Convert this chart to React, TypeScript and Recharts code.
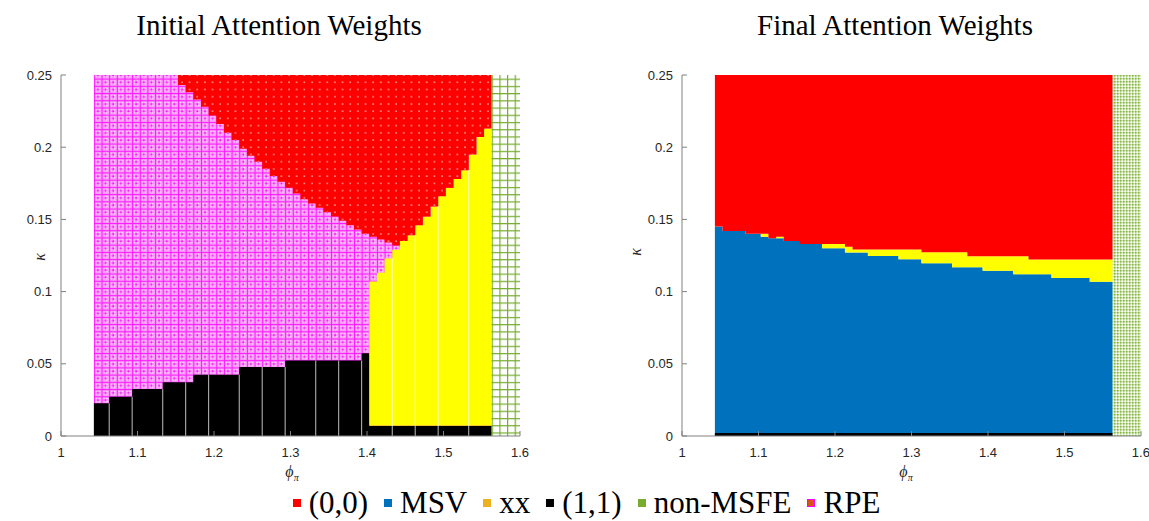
import { ComposedChart, Area, XAxis, YAxis, ReferenceLine } from 'recharts'

// column edges of the phi_pi grid (last value closes the final column)
const phiEdges = [
  1.043, 1.053, 1.063, 1.073, 1.083, 1.093, 1.103, 1.113, 1.123, 1.133,
  1.143, 1.153, 1.163, 1.173, 1.183, 1.193, 1.203, 1.213, 1.223, 1.233,
  1.243, 1.253, 1.263, 1.273, 1.283, 1.293, 1.303, 1.313, 1.323, 1.333,
  1.343, 1.353, 1.363, 1.373, 1.383, 1.393, 1.403, 1.413, 1.423, 1.433,
  1.443, 1.453, 1.463, 1.473, 1.483, 1.493, 1.503, 1.513, 1.523, 1.533,
  1.543, 1.553, 1.563,
]
const phiMax = 1.6
const kappaMax = 0.25
const xTicks = [1, 1.1, 1.2, 1.3, 1.4, 1.5, 1.6]
const yTicks = [0, 0.05, 0.1, 0.15, 0.2, 0.25]

// Initial attention weights: upper edge of (1,1) region
const initBlackTop = [
  0.0226, 0.0226, 0.0272, 0.0272, 0.0272, 0.0325, 0.0325, 0.0325, 0.0325, 0.0372,
  0.0372, 0.0372, 0.0372, 0.0425, 0.0425, 0.0425, 0.0425, 0.0425, 0.0425, 0.0478,
  0.0478, 0.0478, 0.0478, 0.0478, 0.0478, 0.0522, 0.0522, 0.0522, 0.0522, 0.0522,
  0.0522, 0.0522, 0.0522, 0.0522, 0.0522, 0.0573, 0.0071, 0.0071, 0.0071, 0.0071,
  0.0071, 0.0071, 0.0071, 0.0071, 0.0071, 0.0071, 0.0071, 0.0071, 0.0071, 0.0071,
  0.0071, 0.0071,
]
// upper edge of xx region (null = no xx in that column)
const initYellowTop = [
  null, null, null, null, null, null, null, null, null, null,
  null, null, null, null, null, null, null, null, null, null,
  null, null, null, null, null, null, null, null, null, null,
  null, null, null, null, null, null, 0.107, 0.113, 0.123, 0.129,
  0.135, 0.139, 0.146, 0.152, 0.159, 0.166, 0.172, 0.178, 0.184, 0.195,
  0.207, 0.213,
]
// lower edge of (0,0) region
const initRedLow = [
  null, null, null, null, null, null, null, null, null, null,
  null, 0.243, 0.238, 0.233, 0.228, 0.222, 0.216, 0.210, 0.205, 0.199,
  0.194, 0.190, 0.185, 0.180, 0.176, 0.172, 0.168, 0.164, 0.161, 0.158,
  0.155, 0.152, 0.149, 0.146, 0.143, 0.140, 0.138, 0.136, 0.134, 0.132,
  0.135, 0.139, 0.146, 0.152, 0.159, 0.166, 0.172, 0.178, 0.184, 0.195,
  0.207, 0.213,
]
// edge indices where the filled patches are separated by a thin white seam
const initSeams = [2, 5, 9, 12, 15, 19, 22, 25, 29, 32, 35, 39, 42, 45, 49]

// Final attention weights: upper edge of MSV region
const finalMsvTop = [
  0.145, 0.142, 0.142, 0.142, 0.140, 0.140, 0.138, 0.137, 0.137, 0.135,
  0.135, 0.133, 0.133, 0.133, 0.130, 0.130, 0.130, 0.127, 0.127, 0.127,
  0.1246, 0.1246, 0.1246, 0.1246, 0.1224, 0.1224, 0.1224, 0.1196, 0.1196, 0.1196,
  0.1196, 0.1168, 0.1168, 0.1168, 0.1168, 0.1145, 0.1145, 0.1145, 0.1145, 0.112,
  0.112, 0.112, 0.112, 0.112, 0.1094, 0.1094, 0.1094, 0.1094, 0.1094, 0.1069,
  0.1069, 0.1069,
]
// lower edge of (0,0) region
const finalRedLow = [
  0.145, 0.142, 0.142, 0.142, 0.140, 0.140, 0.140, 0.137, 0.138, 0.135,
  0.135, 0.133, 0.133, 0.133, 0.133, 0.133, 0.133, 0.131, 0.1292, 0.1292,
  0.1292, 0.1292, 0.1292, 0.1292, 0.1292, 0.1292, 0.1292, 0.1272, 0.1272, 0.1272,
  0.1272, 0.1272, 0.1272, 0.1245, 0.1245, 0.1245, 0.1245, 0.1245, 0.1245, 0.1245,
  0.1245, 0.1222, 0.1222, 0.1222, 0.1222, 0.1222, 0.1222, 0.1222, 0.1222, 0.1222,
  0.1222, 0.1222,
]
// (1,1) markers sit on the kappa = 0 row
const finalBlackTop = 0.002

const legendItems = [
  { label: '(0,0)', color: '#FF0000' },
  { label: 'MSV', color: '#0072BD' },
  { label: 'xx', color: '#EDB120' },
  { label: '(1,1)', color: '#000000' },
  { label: 'non-MSFE', color: '#77AC30' },
  { label: 'RPE', color: '#D95319', border: '#FF00FF' },
]

const RED = '#FF0000'
const YELLOW = '#FFFF00'
const BLUE = '#0072BD'
const AXIS = '#808080'
const TXT = '#262626'
const serif = '"Liberation Serif", "Times New Roman", serif'
const sans = '"Liberation Sans", Arial, sans-serif'

// each grid column becomes a flat step: one row at its left edge, one at its right edge
function buildRows(series: Record<string, (number | null)[]>) {
  const rows: any[] = []
  for (let i = 0; i < phiEdges.length - 1; i++) {
    for (const phi of [phiEdges[i], phiEdges[i + 1]]) {
      const row: any = { phi, inData: true }
      for (const key in series) row[key] = series[key][i]
      rows.push(row)
    }
  }
  rows.push({ phi: phiEdges[phiEdges.length - 1], inData: false, green: true })
  rows.push({ phi: phiMax, inData: false, green: true })
  return rows
}

const initRows = buildRows({ black: initBlackTop, yellow: initYellowTop, red: initRedLow })
const finalRows = buildRows({ msv: finalMsvTop, red: finalRedLow })

const green = (r: any) => (r.green ? [0, kappaMax] : null)

function Axes() {
  return [
    <XAxis key='x' dataKey='phi' type='number' domain={[1, phiMax]} ticks={xTicks}
      allowDataOverflow height={30} stroke={AXIS} tickSize={-5} tickMargin={17}
      tick={{ fontSize: 13, fill: TXT, fontFamily: sans }} />,
    <YAxis key='y' type='number' domain={[0, kappaMax]} ticks={yTicks} width={50}
      stroke={AXIS} tickSize={-5} tickMargin={14}
      tick={{ fontSize: 13, fill: TXT, fontFamily: sans }} />,
  ]
}

function Patterns() {
  // cell = one grid point: 0.01 in phi x 0.005 in kappa
  const w = 7.65, h = 7.22
  return (
    <svg width={0} height={0} style={{ position: 'absolute' }}>
      <defs>
        <pattern id='redDots' patternUnits='userSpaceOnUse' x={93.9} y={432.4} width={w} height={h}>
          <rect width={w} height={h} fill={RED} />
          <rect x={3.3} y={3.1} width={1.2} height={1.2} fill='#ffffff' />
        </pattern>
        <pattern id='rpe' patternUnits='userSpaceOnUse' x={93.9} y={432.4} width={w} height={h}>
          <rect width={w} height={h} fill='#f79af7' />
          <rect width={w} height={1} fill='#ff1aff' />
          <rect width={1} height={h} fill='#ff1aff' />
          <rect x={3.2} y={3} width={1.6} height={1.6} fill='#ff00ff' />
          <rect x={1.8} y={1.8} width={1} height={1} fill='#ffffff' />
          <rect x={5} y={1.8} width={1} height={1} fill='#ffffff' />
          <rect x={1.8} y={4.8} width={1} height={1} fill='#ffffff' />
          <rect x={5} y={4.8} width={1} height={1} fill='#ffffff' />
        </pattern>
        <pattern id='greenGrid' patternUnits='userSpaceOnUse' x={491.7} y={432.4} width={w} height={h}>
          <rect width={w} height={h} fill='#ffffff' />
          <rect width={w} height={1.2} fill='#77AC30' />
          <rect width={1.2} height={h} fill='#77AC30' />
        </pattern>
        <pattern id='greenFine' patternUnits='userSpaceOnUse' width={3} height={3}>
          <rect width={3} height={3} fill='#cfe5b0' />
          <rect width={1.5} height={1.5} fill='#86b548' />
          <rect x={1.5} y={1.5} width={1.5} height={1.5} fill='#ffffff' />
        </pattern>
      </defs>
    </svg>
  )
}

function seamTop(k: number) {
  const a = initYellowTop[k - 1] ?? initBlackTop[k - 1]
  const b = initYellowTop[k] ?? initBlackTop[k]
  return Math.min(a, b)
}

function InitialPanel() {
  return (
    <ComposedChart width={574} height={521} data={initRows}
      margin={{ top: 75, right: 54, bottom: 55, left: 11 }}>
      {Axes()}
      <Area dataKey={(r: any) => (r.inData ? [0, kappaMax] : null)} type='linear'
        fill='url(#rpe)' fillOpacity={1} stroke='none' isAnimationActive={false} />
      <Area dataKey={(r: any) => (r.inData ? [0, r.black] : null)} type='linear'
        fill='#000000' fillOpacity={1} stroke='none' isAnimationActive={false} />
      <Area dataKey={(r: any) => (r.inData && r.yellow != null ? [r.black, r.yellow] : null)}
        type='linear' fill={YELLOW} fillOpacity={1} stroke='none' isAnimationActive={false} />
      <Area dataKey={(r: any) => (r.inData && r.red != null ? [r.red, kappaMax] : null)}
        type='linear' fill='url(#redDots)' fillOpacity={1} stroke='none' isAnimationActive={false} />
      <Area dataKey={green} type='linear' fill='url(#greenGrid)' fillOpacity={1}
        stroke='none' isAnimationActive={false} />
      {initSeams.map((k) => (
        <ReferenceLine key={k} segment={[{ x: phiEdges[k], y: 0 }, { x: phiEdges[k], y: seamTop(k) }]}
          stroke='#ffffff' strokeOpacity={0.75} strokeWidth={1} />
      ))}
    </ComposedChart>
  )
}

function FinalPanel() {
  return (
    <ComposedChart width={575} height={521} data={finalRows}
      margin={{ top: 75, right: 8, bottom: 55, left: 58 }}>
      {Axes()}
      <Area dataKey={(r: any) => (r.inData ? [0, r.msv] : null)} type='linear'
        fill={BLUE} fillOpacity={1} stroke='none' isAnimationActive={false} />
      <Area dataKey={(r: any) => (r.inData ? [r.msv, r.red] : null)} type='linear'
        fill={YELLOW} fillOpacity={1} stroke='none' isAnimationActive={false} />
      <Area dataKey={(r: any) => (r.inData ? [r.red, kappaMax] : null)} type='linear'
        fill={RED} fillOpacity={1} stroke='none' isAnimationActive={false} />
      <Area dataKey={(r: any) => (r.inData ? [0, finalBlackTop] : null)} type='linear'
        fill='#000000' fillOpacity={1} stroke='none' isAnimationActive={false} />
      <Area dataKey={green} type='linear' fill='url(#greenFine)' fillOpacity={1}
        stroke='none' isAnimationActive={false} />
    </ComposedChart>
  )
}

const abs = (left: number, top: number): React.CSSProperties => ({ position: 'absolute', left, top })

function Title({ text, cx }: { text: string; cx: number }) {
  return (
    <div style={{ ...abs(cx - 200, 9), width: 400, textAlign: 'center', fontFamily: serif,
      fontSize: 29, color: '#000', whiteSpace: 'nowrap' }}>{text}</div>
  )
}

function KappaLabel({ cx, cy }: { cx: number; cy: number }) {
  return (
    <div style={{ ...abs(cx - 10, cy - 10), width: 20, height: 20, lineHeight: '20px',
      textAlign: 'center', transform: 'rotate(-90deg)', fontFamily: serif, fontStyle: 'italic',
      fontSize: 16, color: TXT }}>κ</div>
  )
}

function PhiLabel({ cx, cy }: { cx: number; cy: number }) {
  return (
    <div style={{ ...abs(cx - 30, cy - 11), width: 60, textAlign: 'center', fontFamily: serif,
      fontStyle: 'italic', fontSize: 16, color: TXT, lineHeight: '20px' }}>
      ϕ<sub style={{ fontSize: 10 }}>π</sub>
    </div>
  )
}

export default function App() {
  return (
    <div style={{ position: 'absolute', left: 0, top: 0, width: 1149, height: 521, background: '#fff' }}>
      <Patterns />
      <div style={abs(0, 0)}><InitialPanel /></div>
      <div style={abs(574, 0)}><FinalPanel /></div>
      <Title text='Initial Attention Weights' cx={279} />
      <Title text='Final Attention Weights' cx={895} />
      <KappaLabel cx={40} cy={257} />
      <KappaLabel cx={636} cy={252} />
      <PhiLabel cx={292} cy={473} />
      <PhiLabel cx={906} cy={473} />
      <div style={{ ...abs(12, 485), width: 1149, display: 'flex', justifyContent: 'center',
        alignItems: 'center', fontFamily: serif, fontSize: 31, color: '#000' }}>
        {legendItems.map((it, k) => (
          <div key={it.label} style={{ display: 'flex', alignItems: 'center',
            marginRight: k === legendItems.length - 1 ? 0 : 16 }}>
            <span style={{ width: 8, height: 8, background: it.color, marginRight: 8,
              boxSizing: 'border-box', border: it.border ? `1.5px solid ${it.border}` : 'none' }} />
            <span>{it.label}</span>
          </div>
        ))}
      </div>
    </div>
  )
}
